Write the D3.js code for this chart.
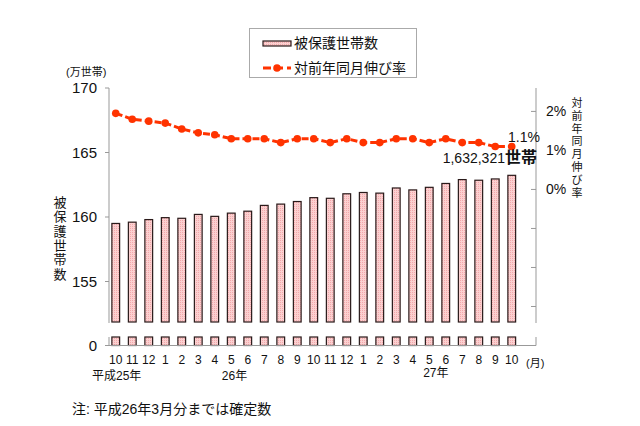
<!DOCTYPE html>
<html><head><meta charset="utf-8">
<script src="https://cdn.jsdelivr.net/npm/d3@7"></script>
<style>
body{margin:0;background:#fff;}
svg{display:block;font-family:"Liberation Sans","Noto Sans CJK JP",sans-serif;}
</style></head>
<body><svg id="c" width="640" height="426"></svg>
<script>
const months = ["10","11","12","1","2","3","4","5","6","7","8","9","10","11","12","1","2","3","4","5","6","7","8","9","10"];
const households = [159.5,159.6,159.8,159.95,159.9,160.2,160.05,160.3,160.45,160.9,161.0,161.2,161.5,161.45,161.8,161.9,161.85,162.25,162.1,162.3,162.6,162.9,162.85,162.95,163.23];
const growth = [1.95,1.8,1.75,1.7,1.55,1.45,1.4,1.3,1.3,1.3,1.2,1.3,1.3,1.2,1.3,1.2,1.2,1.3,1.3,1.2,1.3,1.2,1.2,1.1,1.1];
const leftTicks = [155,160,165,170];
const rightTicks = [-4,-3,-2,-1,0,1,2];
const rightLabels = [0,1,2];
const yearLabels = [{i:0,t:"平成25年"},{i:7.2,t:"26年"},{i:19.4,t:"27年"}];

const svg = d3.select("#c");
const idx = months.map((d,i)=>i);
const x = d3.scaleBand().domain(idx).range([107.5,520]).paddingInner(0.53).paddingOuter(0.265);
const y = d3.scaleLinear().domain([155,170]).range([281.5,88]);
const yLow = d3.scaleLinear().domain([0,1]).range([345.5,337]);
const yR = d3.scaleLinear().domain([-4,2.6]).range([345.5,88]);
const breakTop = 322, breakBot = 337;
const axisCol = "#999";
const xL = 109, xR = 536, yB = 345.5;

// pattern
const defs = svg.append("defs");
const pat = defs.append("pattern").attr("id","dots").attr("patternUnits","userSpaceOnUse").attr("width",2).attr("height",2);
pat.append("rect").attr("width",2).attr("height",2).attr("fill","#fbd0d0");
pat.append("rect").attr("width",1).attr("height",1).attr("fill","#f2a8ac");

// bars upper
svg.append("g").selectAll("rect").data(households).join("rect")
  .attr("x",(d,i)=>x(i)).attr("width",x.bandwidth())
  .attr("y",d=>y(d)).attr("height",d=>breakTop-y(d))
  .attr("fill","url(#dots)").attr("stroke","#2a1a1a").attr("stroke-width",1.2);
// bars lower stubs
svg.append("g").selectAll("rect").data(households).join("rect")
  .attr("x",(d,i)=>x(i)).attr("width",x.bandwidth())
  .attr("y",yLow(1)).attr("height",yLow(0)-yLow(1))
  .attr("fill","url(#dots)").attr("stroke","#2a1a1a").attr("stroke-width",1.2);

// axes
const ax = svg.append("g").attr("stroke",axisCol).attr("stroke-width",1).attr("fill","none");
ax.append("line").attr("x1",xL).attr("x2",xL).attr("y1",88).attr("y2",breakTop+1);
ax.append("line").attr("x1",xL).attr("x2",xL).attr("y1",breakBot).attr("y2",yB);
ax.append("line").attr("x1",xR).attr("x2",xR).attr("y1",88).attr("y2",breakTop+1);
ax.append("line").attr("x1",xR).attr("x2",xR).attr("y1",breakBot).attr("y2",yB);
ax.append("line").attr("x1",xL).attr("x2",xR).attr("y1",yB).attr("y2",yB);
leftTicks.forEach(t=>ax.append("line").attr("x1",xL-4).attr("x2",xL).attr("y1",y(t)).attr("y2",y(t)));
ax.append("line").attr("x1",xL-4).attr("x2",xL).attr("y1",yB).attr("y2",yB);
rightTicks.forEach(t=>ax.append("line").attr("x1",xR-5).attr("x2",xR).attr("y1",yR(t)).attr("y2",yR(t)));

// left tick labels
svg.append("g").selectAll("text").data(leftTicks).join("text")
  .attr("x",97).attr("y",d=>y(d)+5).attr("text-anchor","end").attr("font-size",15).attr("fill","#111").text(d=>d);
svg.append("text").attr("x",97).attr("y",yB+5).attr("text-anchor","end").attr("font-size",15).attr("fill","#111").text("0");
svg.append("text").attr("x",66).attr("y",76).attr("font-size",11).attr("fill","#111").text("(万世帯)");

// right tick labels
svg.append("g").selectAll("text").data(rightLabels).join("text")
  .attr("x",546).attr("y",d=>yR(d)+5).attr("font-size",14).attr("fill","#111").text(d=>d+"%");

// vertical titles
function vtext(str,cx,y0,step,size){
  svg.append("g").selectAll("text").data(Array.from(str)).join("text")
    .attr("x",cx).attr("y",(d,i)=>y0+i*step).attr("text-anchor","middle")
    .attr("font-size",size).attr("fill","#111").text(d=>d);
}
vtext("被保護世帯数",60,207,14.3,13);
vtext("対前年同月伸び率",577,107,12.8,11);

// x labels
svg.append("g").selectAll("text").data(months).join("text")
  .attr("x",(d,i)=>x(i)+x.bandwidth()/2).attr("y",364).attr("text-anchor","middle")
  .attr("font-size",12).attr("fill","#111").text(d=>d);
svg.append("g").selectAll("text").data(yearLabels).join("text")
  .attr("x",d=>d.i===0?92:x(0)+x.bandwidth()/2+d.i*x.step()).attr("y",d=>d.i===0?380:(d.i>10?377:380))
  .attr("text-anchor",d=>d.i===0?"start":"middle").attr("font-size",12).attr("fill","#111").text(d=>d.t);
svg.append("text").attr("x",526).attr("y",367).attr("font-size",11).attr("fill","#111").text("(月)");

// line
const cx = i=>x(i)+x.bandwidth()/2;
const line = d3.line().x((d,i)=>cx(i)).y(d=>yR(d));
svg.append("path").datum(growth).attr("d",line).attr("fill","none")
  .attr("stroke","#ff3300").attr("stroke-width",3).attr("stroke-dasharray","7,3");
svg.append("g").selectAll("circle").data(growth).join("circle")
  .attr("cx",(d,i)=>cx(i)).attr("cy",d=>yR(d)).attr("r",3.8).attr("fill","#ff3300");

// annotations
const last = growth.length-1;
svg.append("text").attr("x",540).attr("y",yR(growth[last])-5).attr("text-anchor","end")
  .attr("font-size",14).attr("fill","#111").text(growth[last]+"%");
const lastVal = "1,632,321";
const ann = svg.append("text").attr("x",537).attr("y",163).attr("text-anchor","end").attr("fill","#111");
ann.append("tspan").attr("font-size",14).text(lastVal);
ann.append("tspan").attr("font-size",16).attr("font-weight","bold").text("世帯");

// legend
const lg = svg.append("g");
lg.append("rect").attr("x",249.5).attr("y",28.5).attr("width",167).attr("height",49).attr("fill","#fff").attr("stroke","#aaa");
lg.append("rect").attr("x",263).attr("y",41).attr("width",28).attr("height",5).attr("fill","url(#dots)").attr("stroke","#2a1a1a").attr("stroke-width",1.2);
lg.append("text").attr("x",294).attr("y",48).attr("font-size",14).attr("fill","#111").text("被保護世帯数");
lg.append("line").attr("x1",263).attr("x2",291).attr("y1",68).attr("y2",68).attr("stroke","#ff3300").attr("stroke-width",3).attr("stroke-dasharray","8,4");
lg.append("circle").attr("cx",277).attr("cy",68).attr("r",3.8).attr("fill","#ff3300");
lg.append("text").attr("x",294).attr("y",73).attr("font-size",14).attr("fill","#111").text("対前年同月伸び率");

// note
svg.append("text").attr("x",72).attr("y",414).attr("font-size",14).attr("fill","#111").text("注: 平成26年3月分までは確定数");
</script></body></html>
